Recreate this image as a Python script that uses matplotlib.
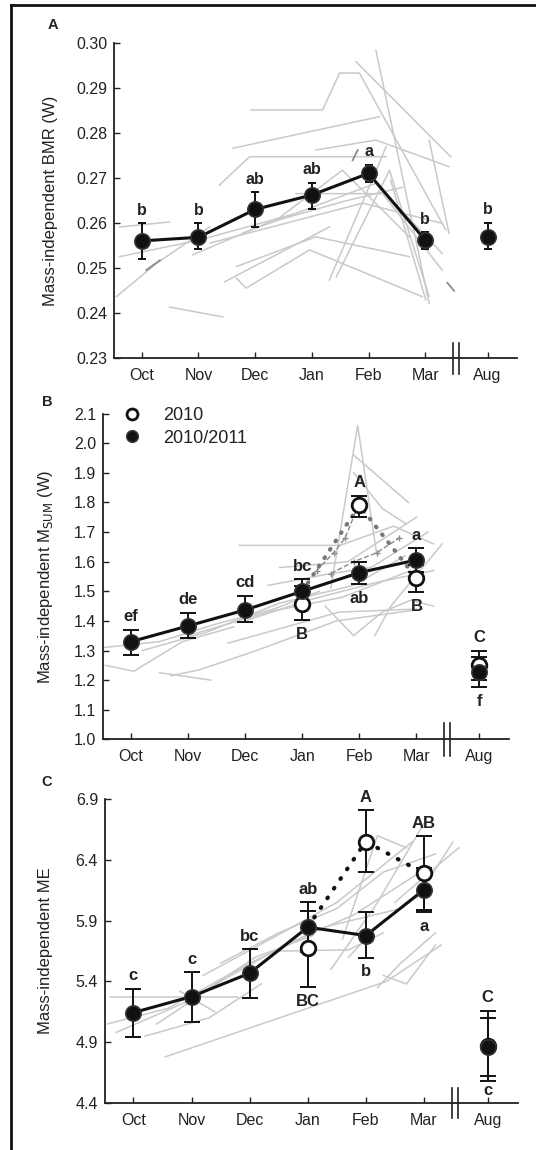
import numpy as np
import matplotlib.pyplot as plt
from matplotlib.lines import Line2D

plt.rcParams['font.family'] = ['Liberation Sans', 'DejaVu Sans']

# month categories (Aug sits after an axis break)
months = ['Oct', 'Nov', 'Dec', 'Jan', 'Feb', 'Mar', 'Aug']

# --- panel A: mass-independent BMR (W), 2010/2011 ---
bmr_mean = [0.2561, 0.2569, 0.2631, 0.2663, 0.2711, 0.2563, 0.2570]
bmr_lo = [0.2521, 0.2542, 0.2591, 0.2631, 0.2692, 0.2542, 0.2542]
bmr_hi = [0.2600, 0.2600, 0.2669, 0.2690, 0.2730, 0.2580, 0.2601]
bmr_let = ['b', 'b', 'ab', 'ab', 'a', 'b', 'b']

# --- panel B: mass-independent Msum (W) ---
ms11_mean = [1.330, 1.383, 1.437, 1.500, 1.563, 1.606, 1.228]
ms11_lo = [1.285, 1.341, 1.395, 1.460, 1.524, 1.565, 1.178]
ms11_hi = [1.370, 1.428, 1.484, 1.540, 1.600, 1.645, 1.277]
ms11_let = ['ef', 'de', 'cd', 'bc', 'ab', 'a', 'f']
ms11_below = [False, False, False, False, True, False, True]
# 2010 group: Jan, Feb, Mar, Aug
ms10_mean = [1.456, 1.790, 1.544, 1.252]
ms10_lo = [1.403, 1.752, 1.499, 1.200]
ms10_hi = [1.518, 1.822, 1.590, 1.300]
ms10_let = ['B', 'A', 'B', 'C']
ms10_below = [True, False, True, False]

# --- panel C: mass-independent ME ---
me11_mean = [5.144, 5.276, 5.468, 5.847, 5.778, 6.155, 4.864]
me11_lo = [4.941, 5.065, 5.262, 5.640, 5.597, 5.975, 4.622]
me11_hi = [5.339, 5.477, 5.666, 6.053, 5.968, 6.335, 5.103]
me11_let = ['c', 'c', 'bc', 'ab', 'b', 'a', 'c']
me11_below = [False, False, False, False, True, True, True]
me10_mean = [5.674, 6.552, 6.290, 4.870]
me10_lo = [5.353, 6.300, 5.990, 4.581]
me10_hi = [5.980, 6.810, 6.594, 5.160]
me10_let = ['BC', 'A', 'AB', 'C']
me10_below = [True, False, False, False]

# individual birds (month index, value), read roughly off the grey background
bmr_ind = [
    ([1.93, 3.19, 3.49, 3.84, 5.36], [0.2852, 0.2852, 0.2934, 0.2934, 0.2586]),
    ([3.78, 5.45], [0.2959, 0.2748]),
    ([4.13, 5.07], [0.2985, 0.2422]),
    ([1.61, 4.19], [0.2767, 0.2837]),
    ([1.37, 1.90, 4.31], [0.2685, 0.2748, 0.2748]),
    ([3.31, 4.31], [0.2474, 0.2770]),
    ([1.67, 1.84, 2.96, 4.95], [0.2478, 0.2456, 0.2541, 0.2437]),
    ([1.46, 3.31], [0.2470, 0.2592]),
    ([0.49, 1.43], [0.2414, 0.2392]),
    ([-0.45, 0.26, 1.20], [0.2437, 0.2511, 0.2592]),
    ([-0.39, 0.49], [0.2592, 0.2603]),
    ([-0.39, 1.02, 2.72], [0.2526, 0.2563, 0.2622]),
    ([4.39, 5.01], [0.2696, 0.2430]),
    ([5.07, 5.42], [0.2785, 0.2578]),
    ([1.20, 3.90, 5.30], [0.2556, 0.2645, 0.2600]),
    ([1.78, 4.13, 5.30], [0.2578, 0.2689, 0.2533]),
    ([2.37, 3.54, 4.72], [0.2607, 0.2718, 0.2570]),
    ([2.72, 4.25, 5.30], [0.2666, 0.2666, 0.2496]),
    ([3.43, 4.37, 5.07], [0.2481, 0.2718, 0.2437]),
    ([3.07, 4.13, 5.42], [0.2763, 0.2785, 0.2726]),
    ([1.67, 3.07, 4.72], [0.2504, 0.2570, 0.2526]),
    ([0.90, 2.20, 3.60, 4.60], [0.2530, 0.2600, 0.2650, 0.2680]),
]
bmr_dark = [
    ([0.08, 0.32], [0.2496, 0.2518]),
    ([5.39, 5.51], [0.2468, 0.2450]),
    ([3.72, 3.81], [0.2740, 0.2763]),
]
ms_ind = [
    ([-0.48, 0.5, 1.5, 2.5, 3.3], [1.31, 1.33, 1.39, 1.44, 1.50]),
    ([-0.45, 0.05, 0.9, 1.8], [1.25, 1.23, 1.33, 1.38]),
    ([0.5, 1.4], [1.225, 1.20]),
    ([0.7, 1.2, 2.2, 3.6, 5.1], [1.215, 1.235, 1.30, 1.40, 1.44]),
    ([1.7, 3.65, 5.0], [1.325, 1.43, 1.44]),
    ([1.9, 3.66, 4.6, 5.3], [1.655, 1.655, 1.72, 1.66]),
    ([3.5, 3.97, 4.3], [1.51, 2.06, 1.63]),
    ([3.9, 4.86], [1.96, 1.80]),
    ([4.27, 4.55, 5.45], [1.35, 1.45, 1.66]),
    ([2.4, 3.5, 4.2, 5.2], [1.52, 1.56, 1.58, 1.70]),
    ([1.0, 2.4, 3.7, 4.9], [1.35, 1.43, 1.48, 1.57]),
    ([2.0, 3.1, 4.3, 5.3], [1.40, 1.47, 1.53, 1.57]),
    ([2.6, 3.8, 5.0], [1.58, 1.60, 1.75]),
    ([3.4, 3.9, 4.4, 4.9, 5.3], [1.45, 1.35, 1.43, 1.47, 1.45]),
    ([3.9, 4.4, 4.8], [1.90, 1.78, 1.73]),
    ([0.2, 1.3, 2.6, 3.9, 4.8], [1.30, 1.36, 1.46, 1.52, 1.62]),
]
ms_dash = [
    ([3.25, 3.55, 3.75, 4.0], [1.57, 1.63, 1.68, 1.80]),
    ([3.5, 3.9, 4.3, 4.7], [1.56, 1.60, 1.63, 1.68]),
]
me_ind = [
    ([0.55, 4.35, 5.3], [4.78, 5.40, 5.70]),
    ([-0.4, 1.8], [5.27, 5.27]),
    ([-0.45, 0.6, 2.0, 3.3, 4.6], [5.05, 5.18, 5.55, 5.85, 6.00]),
    ([-0.3, 1.0, 2.1, 3.1], [4.98, 5.25, 5.60, 5.78]),
    ([0.4, 1.5, 2.6, 3.8, 5.1], [5.05, 5.40, 5.70, 5.95, 6.35]),
    ([1.2, 2.4, 3.5, 4.8], [5.45, 5.76, 6.05, 6.55]),
    ([1.5, 2.5, 3.5, 4.3, 5.2], [5.55, 5.80, 6.00, 6.30, 6.45]),
    ([2.5, 3.7, 4.3], [5.65, 5.66, 5.80]),
    ([3.4, 4.2, 5.0], [5.50, 6.05, 6.70]),
    ([3.7, 4.3, 4.9, 5.5], [5.60, 5.90, 6.10, 6.55]),
    ([4.2, 4.6, 5.2], [5.35, 5.55, 5.80]),
    ([3.6, 4.2, 4.7], [5.75, 6.60, 6.50]),
    ([4.5, 5.1, 5.6], [6.05, 6.30, 6.50]),
    ([4.3, 4.7, 5.2], [5.45, 5.38, 5.70]),
    ([0.2, 1.3, 2.2], [4.95, 5.10, 5.38]),
    ([0.8, 1.4], [5.32, 5.15]),
]

xs = np.array([0, 1, 2, 3, 4, 5, 6.1])
x10 = xs[[3, 4, 5, 6]]
brk = 5.54
grey = '#c9c9c9'
ink = '#111111'

fig = plt.figure(figsize=(5.36, 11.5), dpi=100)
axA = fig.add_axes([0.2127, 0.6884, 0.7519, 0.2739])
axB = fig.add_axes([0.1922, 0.3571, 0.7574, 0.2832])
axC = fig.add_axes([0.1959, 0.0409, 0.7705, 0.2641])


def style(ax, ylim, yticks, fmt):
    ax.set_xlim(-0.49, 6.62)
    ax.set_ylim(*ylim)
    ax.set_yticks(yticks)
    ax.set_yticklabels([fmt.format(t) for t in yticks])
    ax.set_xticks(xs)
    ax.set_xticklabels(months)
    for s in ['top', 'right']:
        ax.spines[s].set_visible(False)
    for s in ['left', 'bottom']:
        ax.spines[s].set_linewidth(1.3)
        ax.spines[s].set_color('#222')
    ax.tick_params(direction='in', length=4, width=1, labelsize=11.5,
                   colors='#222', pad=5)
    ax.tick_params(axis='x', pad=7)
    # axis break
    for dx in (-0.05, 0.05):
        ax.plot([brk + dx, brk + dx], [-0.05, 0.05], color='#222', lw=1.2,
                transform=ax.get_xaxis_transform(), clip_on=False)


def letters(ax, x, lo, hi, labs, below, size=11.5):
    for xi, l, h, t, b in zip(x, lo, hi, labs, below):
        if b:
            ax.annotate(t, (xi, l), xytext=(0, -5), textcoords='offset points',
                        ha='center', va='top', fontsize=size,
                        fontweight='bold', color='#222', zorder=6)
        else:
            ax.annotate(t, (xi, h), xytext=(0, 4), textcoords='offset points',
                        ha='center', va='bottom', fontsize=size,
                        fontweight='bold', color='#222', zorder=6)


def errs(m, lo, hi):
    m = np.array(m)
    return [m - np.array(lo), np.array(hi) - m]


# ---- A ----
for xv, yv in bmr_ind:
    axA.plot(xv, yv, color=grey, lw=1.1, zorder=1)
for xv, yv in bmr_dark:
    axA.plot(xv, yv, color='#8a8a8a', lw=1.3, zorder=1)
axA.errorbar(xs, bmr_mean, yerr=errs(bmr_mean, bmr_lo, bmr_hi), fmt='none',
             ecolor=ink, elinewidth=1.4, capsize=3, capthick=1.4, zorder=3)
axA.plot(xs[:6], bmr_mean[:6], color=ink, lw=2.2, zorder=3)
axA.plot(xs, bmr_mean, 'o', ms=11, mfc=ink, mec='#333', mew=1.2, zorder=4)
letters(axA, xs, bmr_lo, bmr_hi, bmr_let, [False] * 7)
style(axA, (0.23, 0.30), np.arange(0.23, 0.3001, 0.01), '{:.2f}')

# ---- B ----
for xv, yv in ms_ind:
    axB.plot(xv, yv, color=grey, lw=1.1, zorder=1)
for xv, yv in ms_dash:
    axB.plot(xv, yv, color='#8a8a8a', lw=1.0, ls='--', marker='+', ms=4,
             zorder=1)
axB.plot([xs[3], x10[1], x10[2]], [ms11_mean[3], ms10_mean[1], ms10_mean[2]],
         color='#777', lw=3, ls=(0, (0.2, 2.2)), dash_capstyle='round', zorder=2)
axB.errorbar(xs, ms11_mean, yerr=errs(ms11_mean, ms11_lo, ms11_hi), fmt='none',
             ecolor=ink, elinewidth=1.4, capsize=6, capthick=1.4, zorder=3)
axB.errorbar(x10, ms10_mean, yerr=errs(ms10_mean, ms10_lo, ms10_hi), fmt='none',
             ecolor=ink, elinewidth=1.4, capsize=6, capthick=1.4, zorder=3)
axB.plot(xs[:6], ms11_mean[:6], color=ink, lw=2.2, zorder=3)
h10, = axB.plot(x10, ms10_mean, 'o', ms=10.5, mfc='white', mec=ink, mew=2,
                zorder=4, label='2010')
h11, = axB.plot(xs, ms11_mean, 'o', ms=11, mfc=ink, mec='#333', mew=1.2,
                zorder=5, label='2010/2011')
letters(axB, xs, ms11_lo, ms11_hi, ms11_let, ms11_below, 12)
letters(axB, x10, ms10_lo, ms10_hi, ms10_let, ms10_below, 12)
style(axB, (1.0, 2.1), np.arange(1.0, 2.1001, 0.1), '{:.1f}')
leg = axB.legend(handles=[h10, h11], loc='upper left',
                 bbox_to_anchor=(0.045, 1.02), frameon=False, fontsize=13,
                 handlelength=1.2, handletextpad=1.1, labelspacing=0.3,
                 borderpad=0, borderaxespad=0, markerscale=0.75)
for t in leg.get_texts():
    t.set_color('#222')

# ---- C ----
for xv, yv in me_ind:
    axC.plot(xv, yv, color=grey, lw=1.1, zorder=1)
axC.plot([xs[3], x10[1], x10[2]], [me11_mean[3], me10_mean[1], me10_mean[2]],
         color=ink, lw=3, ls=(0, (0.2, 2.6)), dash_capstyle='round', zorder=2)
axC.errorbar(xs, me11_mean, yerr=errs(me11_mean, me11_lo, me11_hi), fmt='none',
             ecolor=ink, elinewidth=1.4, capsize=6, capthick=1.4, zorder=3)
axC.errorbar(x10, me10_mean, yerr=errs(me10_mean, me10_lo, me10_hi), fmt='none',
             ecolor=ink, elinewidth=1.4, capsize=6, capthick=1.4, zorder=3)
axC.plot(xs[:6], me11_mean[:6], color=ink, lw=2.2, zorder=3)
axC.plot(x10, me10_mean, 'o', ms=10.5, mfc='white', mec=ink, mew=2, zorder=4)
axC.plot(xs, me11_mean, 'o', ms=11, mfc=ink, mec='#333', mew=1.2, zorder=5)
letters(axC, xs, me11_lo, me11_hi, me11_let, me11_below, 12)
letters(axC, x10, me10_lo, me10_hi, me10_let, me10_below, 12)
style(axC, (4.4, 6.9), np.arange(4.4, 6.9001, 0.5), '{:.1f}')

# y labels and panel letters
fig.text(51 / 536, 1 - 201 / 1150, 'Mass-independent BMR (W)', rotation=90,
         ha='center', va='center', fontsize=12, color='#222')
fig.text(46 / 536, 1 - 577 / 1150, 'Mass-independent M$_{\\mathrm{SUM}}$ (W)',
         rotation=90, ha='center', va='center', fontsize=12, color='#222')
fig.text(46 / 536, 1 - 951 / 1150, 'Mass-independent ME', rotation=90,
         ha='center', va='center', fontsize=12, color='#222')
for lab, px, py in [('A', 53, 25), ('B', 47, 402), ('C', 47, 782)]:
    fig.text(px / 536, 1 - py / 1150, lab, ha='center', va='center',
             fontsize=10.5, fontweight='bold', color='#222')

# outer frame (top and left edges)
fig.add_artist(Line2D([11 / 536, 1.0], [1 - 5 / 1150, 1 - 5 / 1150],
                      color='#111', lw=2, transform=fig.transFigure))
fig.add_artist(Line2D([11 / 536, 11 / 536], [0, 1 - 5 / 1150],
                      color='#111', lw=2, transform=fig.transFigure))

fig.savefig('out.png', dpi=100, facecolor='white')
